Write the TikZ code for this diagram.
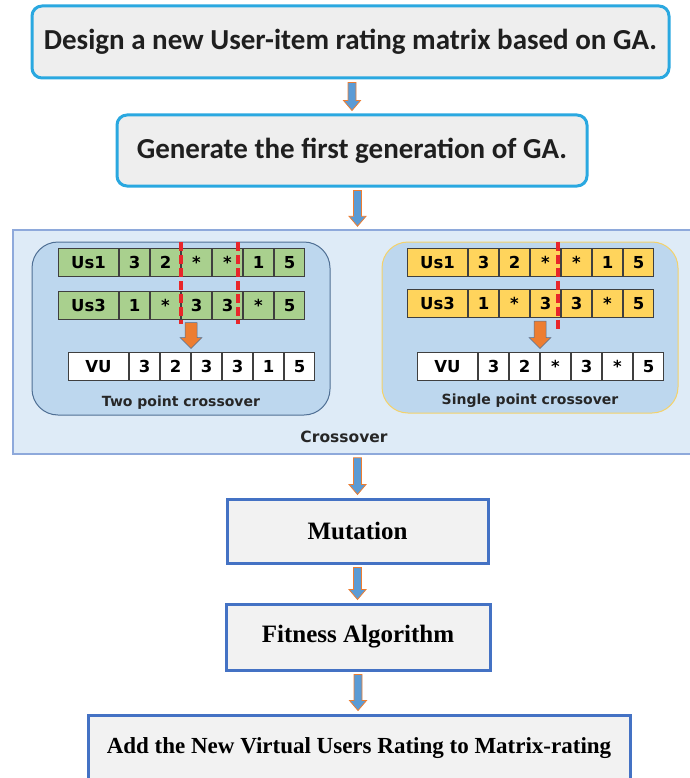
\documentclass[tikz,border=0pt]{standalone}
\usepackage{fontspec}
\newfontfamily\boxfont{Carlito}
\newfontfamily\cellfont{DejaVu Sans}
\newfontfamily\stepfont{Liberation Serif}
\usetikzlibrary{positioning, calc}

\definecolor{topedge}{HTML}{2AA8E0}
\definecolor{boxgray}{HTML}{EEEEEE}
\definecolor{stepedge}{HTML}{4472C4}
\definecolor{stepgray}{HTML}{F2F2F2}
\definecolor{arrowblue}{HTML}{5B9BD5}
\definecolor{arroworange}{HTML}{ED7D31}
\definecolor{panelblue}{HTML}{DEEBF7}
\definecolor{paneledge}{HTML}{8EA9DB}
\definecolor{lanefill}{HTML}{BDD7EE}
\definecolor{laneblue}{HTML}{4F6F94}
\definecolor{laneyellow}{HTML}{F4D26A}
\definecolor{cellgreen}{HTML}{A9D08E}
\definecolor{cellyellow}{HTML}{FFD45C}
\definecolor{celledge}{HTML}{3F3F3F}
\definecolor{cutred}{HTML}{E8262A}

\begin{document}
\begin{tikzpicture}[x=1pt, y=-1pt,
    topbox/.style={rectangle, rounded corners=10pt, draw=topedge, line width=3pt, fill=boxgray, align=center, text=black!88, font=\boxfont\bfseries\fontsize{29}{33}\selectfont},
    stepbox/.style={rectangle, draw=stepedge, line width=3pt, fill=stepgray, align=center, font=\stepfont\bfseries\fontsize{23}{26}\selectfont},
    panel/.style={rectangle, draw=paneledge, line width=1.5pt, fill=panelblue},
    lane/.style={rectangle, rounded corners=26pt, fill=lanefill, line width=1pt},
    cell/.style={rectangle, draw=celledge, line width=1pt, minimum width=30pt, minimum height=28pt, inner sep=0pt, text height=12pt, text depth=0pt, font=\cellfont\bfseries\fontsize{16.5}{19}\selectfont},
    namecell/.style={cell, minimum width=60pt},
    note/.style={inner sep=2pt, text=black!85, font=\cellfont\bfseries\fontsize{14}{16}\selectfont},
    blockarrow/.style n args={3}{to path={let \p1=(\tikztostart), \p2=(\tikztotarget) in
        (\x1-#1,\y1-3pt) -- (\x1-#1,\y2+3pt+#3) -- (\x1-#2,\y2+3pt+#3) -- (\x1,\y2+3pt)
        -- (\x1+#2,\y2+3pt+#3) -- (\x1+#1,\y2+3pt+#3) -- (\x1+#1,\y1-3pt) -- cycle}},
    flowarrow/.style={blockarrow={4pt}{8.5pt}{10pt}, fill=arrowblue, draw=arroworange, line width=0.8pt},
    mixarrow/.style={blockarrow={6pt}{11pt}{11pt}, fill=arroworange, draw=laneblue, line width=0.5pt},
    cutline/.style={draw=cutred, line width=4pt, dash pattern=on 9pt off 4pt}
]
\useasboundingbox (0,0) rectangle (689,778);

% Top boxes
\node[topbox, minimum width=637pt, minimum height=72pt] (design) at (350.5,42) {Design a new User-item rating matrix based on GA.};
\node[topbox, minimum width=470pt, minimum height=71pt] (generate) at (352,150.5) {Generate the first generation of GA.};

% Crossover panel
\node[panel, minimum width=687pt, minimum height=224pt] (crossover) at (356.5,342) {};
\node[note, font=\cellfont\bfseries\fontsize{15.5}{18}\selectfont] (crosslabel) at (344,437) {Crossover};
\node[lane, draw=laneblue, minimum width=298pt, minimum height=173pt] (twolane) at (181,328.5) {};
\node[lane, draw=laneyellow, minimum width=296pt, minimum height=171pt] (onelane) at (530,327.5) {};
\node[note, above=4pt of twolane.south] (twolabel) {Two point crossover};
\node[note, above=4pt of onelane.south] (onelabel) {Single point crossover};

% Chromosome rows
\foreach \row/\x/\y/\col/\lab/\vals in {
    L1/58/262.5/cellgreen/Us1/{3,2,*,*,1,5},
    L2/58/305/cellgreen/Us3/{1,*,3,3,*,5},
    L3/68/366/white/VU/{3,2,3,3,1,5},
    R1/407/262/cellyellow/Us1/{3,2,*,*,1,5},
    R2/407/303.5/cellyellow/Us3/{1,*,3,3,*,5},
    R3/417/366/white/VU/{3,2,*,3,*,5}} {
  \node[namecell, fill=\col, anchor=west] (\row-0) at (\x,\y) {\lab};
  \foreach \v [count=\i, remember=\i as \p (initially 0)] in \vals
    \node[cell, fill=\col, right=0pt of \row-\p] (\row-\i) {\v};
}

% Cut points
\draw[cutline] ($(L1-2.north east)+(0,-6)$) -- ($(L2-2.south east)+(0,4)$);
\draw[cutline] ($(L1-4.north east)+(-5,-6)$) -- ($(L2-4.south east)+(-5,4)$);
\draw[cutline] ($(R1-3.north east)+(-3,-6)$) -- ($(R2-3.south east)+(-3,11)$);

% Offspring
\draw[mixarrow] (L2-2.south -| L3-2.east) to (L3-2.north east);
\draw[mixarrow] (R2-2.south -| R3-2.east) to (R3-2.north east);

% Lower steps
\node[stepbox, minimum width=261pt, minimum height=64pt, font=\stepfont\bfseries\fontsize{25}{28}\selectfont] (mutation) at (357.5,531) {Mutation};
\node[stepbox, minimum width=264pt, minimum height=66pt, font=\stepfont\bfseries\fontsize{25}{28}\selectfont] (fitness) at (358,637) {Fitness Algorithm};
\node[stepbox, minimum width=542pt, minimum height=66pt] (addusers) at (359,748) {Add the New Virtual Users Rating to Matrix-rating};

% Flow
\draw[flowarrow] (design.south -| generate) to (generate.north);
\draw[flowarrow] (generate.south -| mutation) to (crossover.north -| mutation);
\draw[flowarrow] (crossover.south -| mutation) to (mutation.north);
\draw[flowarrow] (mutation.south) to (fitness.north);
\draw[flowarrow] (fitness.south) to (addusers.north);

\end{tikzpicture}
\end{document}
